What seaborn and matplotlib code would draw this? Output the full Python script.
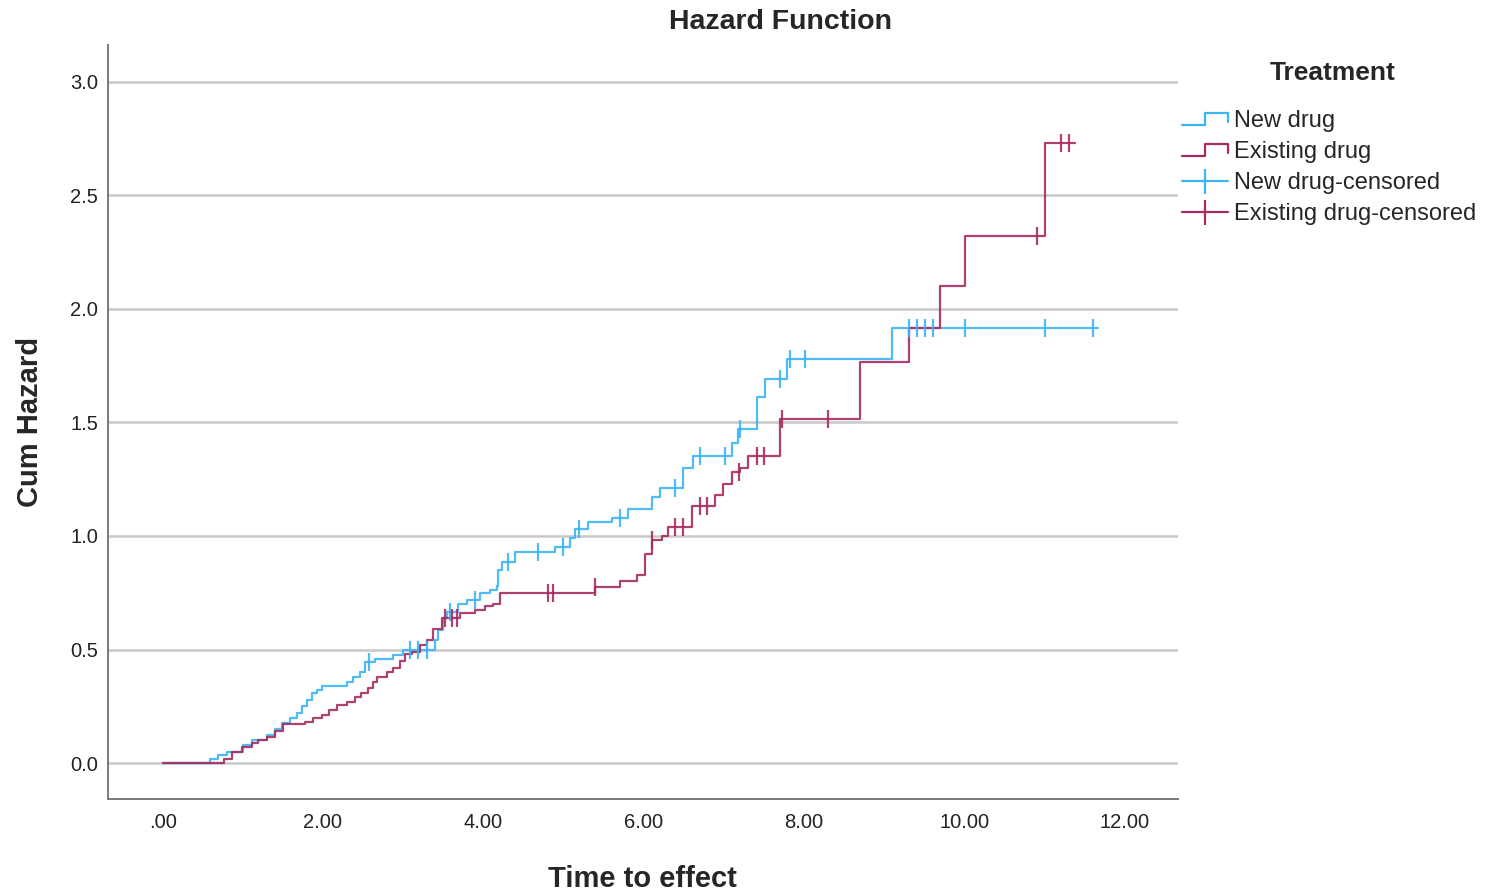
import matplotlib
matplotlib.use("Agg")
import matplotlib.pyplot as plt
from matplotlib.lines import Line2D
from matplotlib.legend_handler import HandlerBase
import numpy as np
import pandas as pd
import seaborn as sns

# step points of the cumulative hazard
new_time = [0.00, 0.59, 0.69, 0.80, 1.00, 1.12, 1.30, 1.40, 1.49, 1.59,
            1.67, 1.74, 1.80, 1.86, 1.92, 1.99, 2.30, 2.37, 2.46, 2.52,
            2.65, 2.87, 3.00, 3.40, 3.43, 3.50, 3.55, 3.68, 3.80, 3.96,
            4.08, 4.17, 4.18, 4.24, 4.39, 4.89, 5.08, 5.14, 5.31, 5.61,
            5.81, 6.10, 6.20, 6.49, 6.62, 7.10, 7.18, 7.42, 7.52, 7.79,
            9.10, 11.67]
new_haz = [0, .02, .035, .05, .08, .10, .125, .15, .175, .20,
           .22, .25, .28, .31, .32, .34, .355, .38, .40, .445,
           .46, .475, .50, .54, .585, .64, .665, .70, .72, .75,
           .76, .78, .85, .885, .93, .95, .99, 1.03, 1.06, 1.08,
           1.12, 1.17, 1.21, 1.30, 1.35, 1.41, 1.47, 1.61, 1.69, 1.78,
           1.915, 1.915]
new_censored = [2.58, 3.08, 3.18, 3.30, 3.58, 3.90, 4.31, 4.68, 4.99, 5.19,
                5.71, 6.39, 6.70, 7.02, 7.20, 7.70, 7.83, 8.01, 9.31, 9.41,
                9.51, 9.61, 10.01, 11.01, 11.61]

old_time = [0.00, 0.77, 0.87, 0.99, 1.11, 1.19, 1.30, 1.40, 1.50, 1.77,
            1.87, 1.99, 2.08, 2.18, 2.30, 2.40, 2.48, 2.56, 2.62, 2.68,
            2.80, 2.87, 2.96, 3.02, 3.11, 3.21, 3.30, 3.37, 3.48, 3.71,
            3.90, 4.02, 4.12, 4.21, 5.39, 5.71, 5.92, 6.02, 6.10, 6.23,
            6.30, 6.60, 6.89, 6.99, 7.10, 7.20, 7.30, 7.70, 8.70, 9.31,
            9.70, 10.01, 11.01, 11.39]
old_haz = [0, .02, .05, .07, .09, .10, .115, .14, .17, .18,
           .20, .21, .235, .255, .27, .29, .31, .33, .355, .38,
           .40, .42, .45, .48, .49, .52, .54, .59, .64, .66,
           .675, .69, .70, .75, .775, .80, .83, .92, .98, 1.00,
           1.04, 1.13, 1.18, 1.23, 1.28, 1.30, 1.35, 1.515, 1.766, 1.915,
           2.10, 2.32, 2.73, 2.73]
old_censored = [3.52, 3.61, 3.67, 4.81, 4.87, 5.39, 6.10, 6.39, 6.49, 6.70,
                6.79, 7.19, 7.42, 7.50, 7.73, 8.30, 10.91, 11.21, 11.31]

groups = ["New drug", "Existing drug"]
colors = {"New drug": "#3db4f4", "Existing drug": "#a52c5f"}
xticks = [0, 2, 4, 6, 8, 10, 12]
xtick_labels = [".00", "2.00", "4.00", "6.00", "8.00", "10.00", "12.00"]
yticks = [0.0, 0.5, 1.0, 1.5, 2.0, 2.5, 3.0]


def censor_heights(times, haz, cens):
    idx = np.searchsorted(times, cens, side="right") - 1
    return np.asarray(haz)[idx]


curves = pd.concat([
    pd.DataFrame({"time": new_time, "haz": new_haz, "Treatment": "New drug"}),
    pd.DataFrame({"time": old_time, "haz": old_haz, "Treatment": "Existing drug"}),
])
cens = pd.concat([
    pd.DataFrame({"time": new_censored,
                  "haz": censor_heights(new_time, new_haz, new_censored),
                  "Treatment": "New drug"}),
    pd.DataFrame({"time": old_censored,
                  "haz": censor_heights(old_time, old_haz, old_censored),
                  "Treatment": "Existing drug"}),
])

sns.set_style("white")
plt.rcParams["font.family"] = ["Liberation Sans", "DejaVu Sans"]

fig = plt.figure(figsize=(14.95, 8.92), dpi=100)
ax = fig.add_axes([0.072, 0.104, 0.716, 0.846])

for g in groups:
    sns.lineplot(data=curves[curves.Treatment == g], x="time", y="haz",
                 color=colors[g], drawstyle="steps-post", estimator=None,
                 sort=False, linewidth=1.6, alpha=0.9, ax=ax, legend=False)
    sub = cens[cens.Treatment == g]
    ax.scatter(sub.time, sub.haz, marker="|", s=170, linewidths=1.6,
               color=colors[g], alpha=0.9, zorder=3)

ax.set_xlim(-0.687, 12.67)
ax.set_ylim(-0.159, 3.163)
ax.set_xticks(xticks)
ax.set_xticklabels(xtick_labels)
ax.set_yticks(yticks)
ax.set_yticklabels([f"{v:.1f}" for v in yticks])
ax.yaxis.grid(True, color="#c8c8c8", linewidth=1.8)
ax.xaxis.grid(False)
ax.set_axisbelow(True)
ax.tick_params(axis="both", length=0, labelsize=14.5, colors="#222222")
ax.tick_params(axis="x", pad=10)
ax.tick_params(axis="y", pad=7)
for side in ["top", "right"]:
    ax.spines[side].set_visible(False)
for side in ["left", "bottom"]:
    ax.spines[side].set_color("#7a7a7a")
    ax.spines[side].set_linewidth(1.4)

ax.set_xlabel("Time to effect", fontsize=21, fontweight="bold", labelpad=24)
ax.set_ylabel("Cum Hazard", fontsize=21, fontweight="bold")
ax.yaxis.set_label_coords(-0.059, 0.5)
fig.text(0.522, 0.975, "Hazard Function", ha="center", va="center",
         fontsize=20.5, fontweight="bold")
fig.text(1333 / 1495, 1 - 73 / 892, "Treatment", ha="center", va="center",
         fontsize=19, fontweight="bold")


class StepHandler(HandlerBase):
    def create_artists(self, legend, orig_handle, xdescent, ydescent,
                       width, height, fontsize, trans):
        lo = -ydescent + height * 0.1
        hi = -ydescent + height * 0.85
        xs = np.array([0, 0.5, 0.5, 1.0, 1.0]) * width - xdescent
        ys = [lo, lo, hi, hi, lo + (hi - lo) * 0.3]
        line = Line2D(xs, ys, color=orig_handle.get_color(), linewidth=1.6,
                      transform=trans)
        return [line]


handles = [Line2D([], [], color=colors["New drug"]),
           Line2D([], [], color=colors["Existing drug"]),
           Line2D([], [], color=colors["New drug"], marker="|", markersize=18,
                  markeredgewidth=1.6, linewidth=1.6),
           Line2D([], [], color=colors["Existing drug"], marker="|", markersize=18,
                  markeredgewidth=1.6, linewidth=1.6)]
labels = ["New drug", "Existing drug", "New drug-censored", "Existing drug-censored"]
leg = fig.legend(handles, labels, loc="upper left",
                 bbox_to_anchor=(1182 / 1495, 1 - 110 / 892),
                 frameon=False, fontsize=17, borderpad=0, borderaxespad=0,
                 handlelength=1.95, handletextpad=0.25, labelspacing=0.38,
                 handler_map={handles[0]: StepHandler(), handles[1]: StepHandler()})

fig.savefig("out.png", dpi=100)
